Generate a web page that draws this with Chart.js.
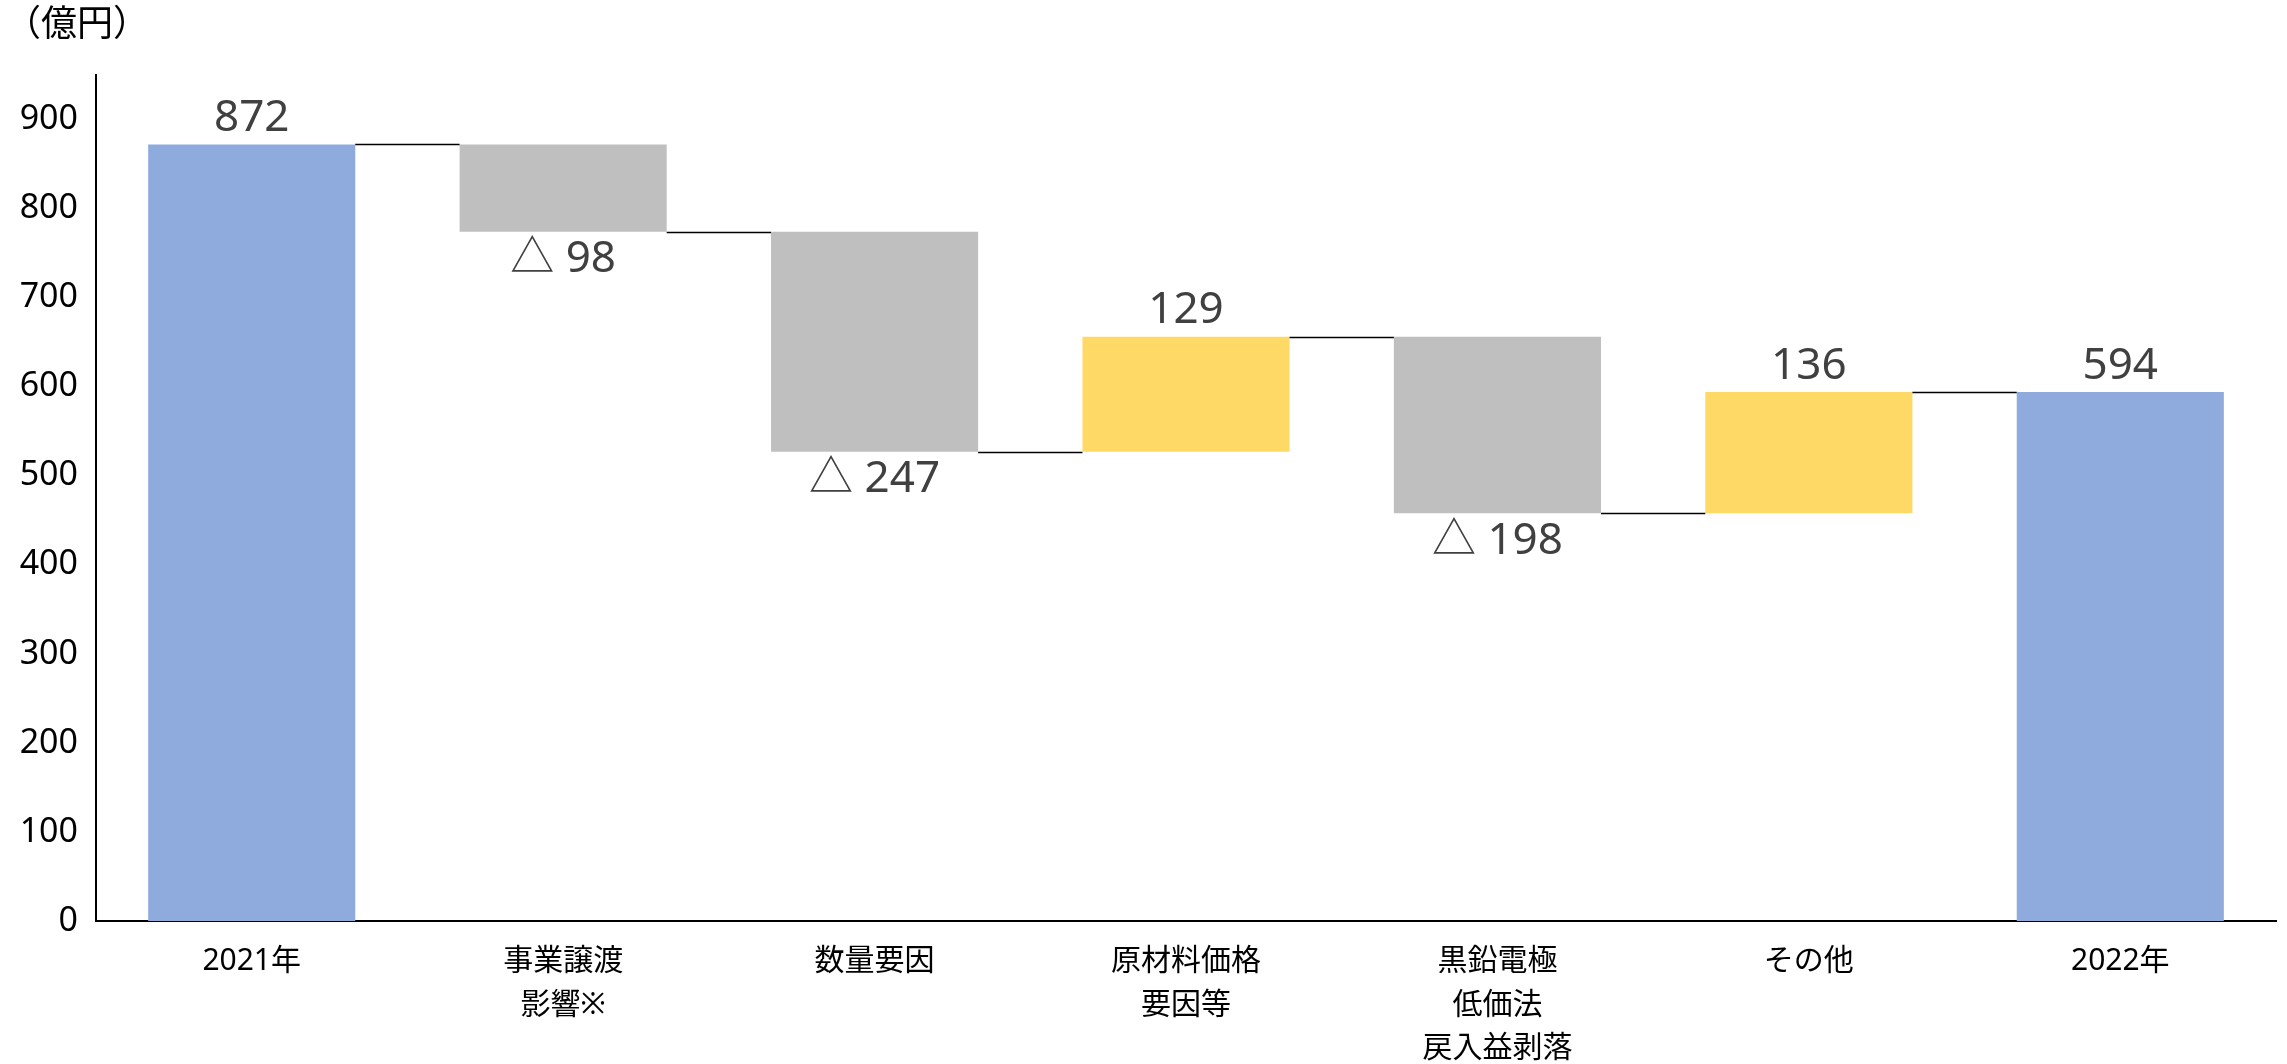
<!DOCTYPE html>
<html>
<head>
<meta charset="utf-8">
<script src="https://cdn.jsdelivr.net/npm/chart.js@4/dist/chart.umd.min.js"></script>
<style>
  html,body{margin:0;padding:0;background:#fff;}
  #wrap{width:2287px;height:1064px;position:relative;}
</style>
</head>
<body>
<div id="wrap"><canvas id="c"></canvas></div>
<script>
// ---- data ----
const categories = [["2021年"], ["事業譲渡", "影響※"], ["数量要因"], ["原材料価格", "要因等"], ["黒鉛電極", "低価法", "戻入益剥落"], ["その他"], ["2022年"]];
const kinds = ["total", "delta", "delta", "delta", "delta", "delta", "total"];
const values = [872, -98, -247, 129, -198, 136, 594];
const yTicks = [0, 100, 200, 300, 400, 500, 600, 700, 800, 900];
const unitLabel = "（億円）";

// ---- build floating ranges ----
const ranges = [];
let run = 0;
values.forEach((v, i) => {
  if (kinds[i] === "total") { ranges.push([0, v]); run = v; }
  else { ranges.push([run, run + v]); run += v; }
});
const colors = values.map((v, i) => kinds[i] === "total" ? "#8FAADC" : (v < 0 ? "#BFBFBF" : "#FFD966"));
const labelText = values.map(v => v < 0 ? "△ " + Math.abs(v) : String(v));

const FONT = "'Noto Sans', 'Noto Sans CJK JP', sans-serif";

const waterfallPlugin = {
  id: "waterfall",
  afterDatasetsDraw(chart) {
    const ctx = chart.ctx;
    const meta = chart.getDatasetMeta(0);
    const y = chart.scales.y;
    ctx.save();
    // connectors
    ctx.strokeStyle = "#000";
    ctx.lineWidth = 1.6;
    for (let i = 0; i < meta.data.length - 1; i++) {
      const a = meta.data[i], b = meta.data[i + 1];
      const lvl = ranges[i][1];
      const py = Math.round(y.getPixelForValue(lvl)) + 0.5;
      ctx.beginPath();
      ctx.moveTo(a.x + a.width / 2, py);
      ctx.lineTo(b.x - b.width / 2, py);
      ctx.stroke();
    }
    // labels
    ctx.fillStyle = "#404040";
    ctx.font = "44px " + FONT;
    ctx.textAlign = "center";
    meta.data.forEach((bar, i) => {
      const top = y.getPixelForValue(Math.max(ranges[i][0], ranges[i][1]));
      const bot = y.getPixelForValue(Math.min(ranges[i][0], ranges[i][1]));
      if (values[i] < 0) {
        ctx.textBaseline = "top";
        ctx.fillText(labelText[i], bar.x, bot + 6);
      } else {
        ctx.textBaseline = "bottom";
        ctx.fillText(labelText[i], bar.x, top - 4);
      }
    });
    // unit label
    ctx.fillStyle = "#000";
    ctx.font = "36px " + FONT;
    ctx.textAlign = "left";
    ctx.textBaseline = "middle";
    ctx.fillText(unitLabel, 5, 26);
    ctx.restore();
  }
};

new Chart(document.getElementById("c"), {
  type: "bar",
  data: {
    labels: categories,
    datasets: [{
      data: ranges,
      backgroundColor: colors,
      borderWidth: 0,
      categoryPercentage: 1.0,
      barPercentage: 0.665
    }]
  },
  options: {
    responsive: true,
    maintainAspectRatio: false,
    animation: false,
    devicePixelRatio: 1,
    layout: { padding: { top: 75, right: 11, left: 0, bottom: 0 } },
    plugins: { legend: { display: false }, tooltip: { enabled: false } },
    scales: {
      x: {
        grid: { display: false, drawTicks: false },
        border: { display: true, color: "#000", width: 2 },
        ticks: {
          color: "#000",
          font: { family: FONT, size: 30, lineHeight: 1.45 },
          padding: 19,
          maxRotation: 0,
          autoSkip: false
        },
        afterFit(s) { s.height = 143; }
      },
      y: {
        min: 0,
        max: 950,
        grid: { display: false, drawTicks: false },
        border: { display: true, color: "#000", width: 2 },
        afterBuildTicks(s) { s.ticks = yTicks.map(v => ({ value: v })); },
        ticks: {
          color: "#000",
          font: { family: FONT, size: 34 },
          padding: 18
        },
        afterFit(s) { s.width = 96; }
      }
    }
  },
  plugins: [waterfallPlugin]
});
</script>
</body>
</html>
